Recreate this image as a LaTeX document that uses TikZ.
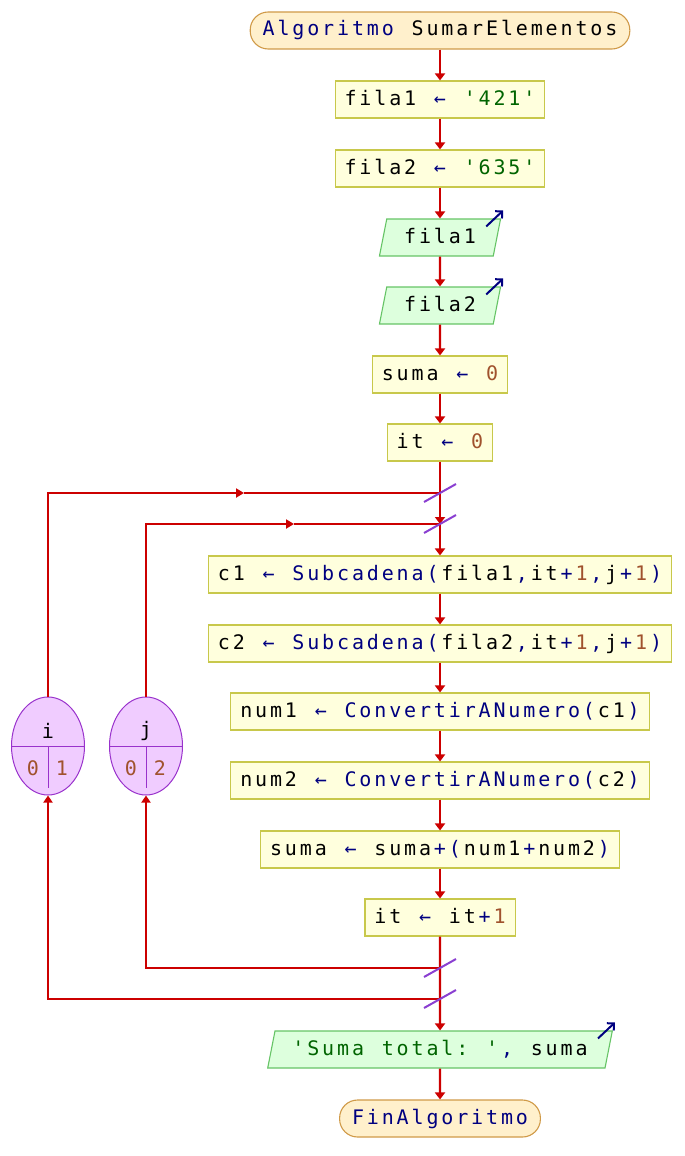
\documentclass[tikz,border=0pt]{standalone}
\usepackage{fontspec}
\usepackage{xcolor}
\usepackage{tikz}
\usetikzlibrary{arrows.meta,positioning,shapes.geometric,calc}
\setmonofont{DejaVu Sans Mono}
\definecolor{flowred}{HTML}{CC0000}
\definecolor{procfill}{HTML}{FFFFDD}
\definecolor{procedge}{HTML}{C8C84B}
\definecolor{iofill}{HTML}{DDFFDD}
\definecolor{ioedge}{HTML}{66C466}
\definecolor{termfill}{HTML}{FFF0CC}
\definecolor{termedge}{HTML}{D09A48}
\definecolor{ellfill}{HTML}{F0CCFF}
\definecolor{elledge}{HTML}{9932CC}
\definecolor{cortecolor}{HTML}{8A3FD1}
\definecolor{kwnavy}{HTML}{000080}
\definecolor{numbrown}{HTML}{A0522D}
\definecolor{strgreen}{HTML}{006400}
% cada caracter en una celda de ancho fijo
\ExplSyntaxOn
\NewDocumentCommand{\mono}{m}{\str_map_inline:nn {#1} {\makebox[14.9pt]{##1}}}
\ExplSyntaxOff
\newcommand{\kwd}[1]{\textcolor{kwnavy}{\mono{#1}}}
\newcommand{\numc}[1]{\textcolor{numbrown}{\mono{#1}}}
\newcommand{\strc}[1]{\textcolor{strgreen}{\mono{#1}}}

\begin{document}
\begin{tikzpicture}[x=1pt,y=-1pt,font=\ttfamily\fontsize{20pt}{24pt}\selectfont,
  procbox/.style={rectangle,draw=procedge,fill=procfill,line width=1.1pt,minimum height=37pt,inner xsep=8pt,text height=15pt,text depth=4pt},
  termbox/.style={procbox,draw=termedge,fill=termfill,rounded corners=18pt,inner xsep=11pt},
  iobox/.style={trapezium,trapezium left angle=69,trapezium right angle=111,trapezium stretches=true,draw=ioedge,fill=iofill,line width=1.1pt,minimum height=37pt,inner xsep=16pt,inner ysep=0pt,text height=15pt,text depth=4pt},
  vareli/.style={ellipse,draw=elledge,fill=ellfill,line width=1pt,minimum width=73pt,minimum height=98pt,inner sep=0pt},
  flowline/.style={draw=flowred,line width=2.2pt},
  flow/.style={flowline,-{Triangle[length=7pt,width=10pt]}},
  corte/.style={draw=cortecolor,line width=2pt},
  salida/.style={draw=kwnavy,line width=2pt,-{Straight Barb[length=5pt,width=10pt]}}]
  \useasboundingbox (0,0) rectangle (685,1156);
  % cuerpo principal
  \node[termbox] (inicio) at (440,30.5) {\kwd{Algoritmo}\mono{ SumarElementos}};
  \node[procbox] (asigfila1) at (440,99.5) {\mono{fila1 }\kwd{←}\mono{ }\strc{'421'}};
  \node[procbox] (asigfila2) at (440,168.5) {\mono{fila2 }\kwd{←}\mono{ }\strc{'635'}};
  \node[iobox] (leerfila1) at (440,237.5) {\mono{fila1}};
  \node[iobox] (leerfila2) at (440,305.5) {\mono{fila2}};
  \node[procbox] (asigsuma) at (440,374.5) {\mono{suma }\kwd{←}\mono{ }\numc{0}};
  \node[procbox] (asigit) at (440,442.5) {\mono{it }\kwd{←}\mono{ }\numc{0}};
  \coordinate (bucleI) at (440,493);
  \coordinate (bucleJ) at (440,524);
  \node[procbox] (asigc1) at (440,574.5) {\mono{c1 }\kwd{← Subcadena(}\mono{fila1}\kwd{,}\mono{it}\kwd{+}\numc{1}\kwd{,}\mono{j}\kwd{+}\numc{1}\kwd{)}};
  \node[procbox] (asigc2) at (440,643.5) {\mono{c2 }\kwd{← Subcadena(}\mono{fila2}\kwd{,}\mono{it}\kwd{+}\numc{1}\kwd{,}\mono{j}\kwd{+}\numc{1}\kwd{)}};
  \node[procbox] (asignum1) at (440,711.5) {\mono{num1 }\kwd{← ConvertirANumero(}\mono{c1}\kwd{)}};
  \node[procbox] (asignum2) at (440,780.5) {\mono{num2 }\kwd{← ConvertirANumero(}\mono{c2}\kwd{)}};
  \node[procbox] (acumsuma) at (440,849.5) {\mono{suma }\kwd{←}\mono{ suma}\kwd{+(}\mono{num1}\kwd{+}\mono{num2}\kwd{)}};
  \node[procbox] (incit) at (440,917.5) {\mono{it }\kwd{←}\mono{ it}\kwd{+}\numc{1}};
  \coordinate (finJ) at (440,968);
  \coordinate (finI) at (440,999);
  \node[iobox] (escribir) at (440,1049.5) {\strc{'Suma total: '}\kwd{,}\mono{ suma}};
  \node[termbox] (fin) at (440,1118.5) {\kwd{FinAlgoritmo}};
  % variables de control
  \foreach \v/\x/\hasta in {i/48/1,j/146/2}{
    \node[vareli] (var\v) at (\x,746) {};
    \draw[elledge,line width=1pt] (var\v.west) -- (var\v.east) (var\v.center) -- ++(0,42);
    \node (nom\v) at ($(var\v)+(0,-15)$) {\v};
    \node (desde\v) at ($(var\v)+(-15,22)$) {\textcolor{numbrown}{0}};
    \node (hasta\v) at ($(var\v)+(14,22)$) {\textcolor{numbrown}{\hasta}};
  }
  % conectores
  \foreach \a/\b in {inicio/asigfila1,asigfila1/asigfila2,asigfila2/leerfila1,leerfila1/leerfila2,leerfila2/asigsuma,asigsuma/asigit,asigc1/asigc2,asigc2/asignum1,asignum1/asignum2,asignum2/acumsuma,acumsuma/incit,escribir/fin}
    \draw[flow] (\a) -- (\b);
  \draw[flowline] (asigit) -- (bucleI);
  \draw[flow] (bucleI) -- (bucleJ);
  \draw[flow] (bucleJ) -- (asigc1);
  \draw[flow] (incit) -- (finJ) -- (finI) -- (escribir);
  \coordinate (flechaI) at (244,493);
  \coordinate (flechaJ) at (294,524);
  \draw[flow,-{Triangle[length=8pt,width=9pt]}] (vari.north) |- (flechaI);
  \draw[flowline] (flechaI) -- (bucleI);
  \draw[flow,-{Triangle[length=8pt,width=9pt]}] (varj.north) |- (flechaJ);
  \draw[flowline] (flechaJ) -- (bucleJ);
  \draw[flow,-{Triangle[length=7pt,width=9pt]}] (finJ) -| (varj.south);
  \draw[flow,-{Triangle[length=7pt,width=9pt]}] (finI) -| (vari.south);
  \foreach \c in {bucleI,bucleJ,finJ,finI}
    \draw[corte] ($(\c)+(-16,9)$) -- ($(\c)+(16,-9)$);
  \foreach \n in {leerfila1,leerfila2,escribir}
    \draw[salida] ($(\n.top right corner)+(-15,8)$) -- ($(\n.top right corner)+(2,-8)$);
\end{tikzpicture}
\end{document}
